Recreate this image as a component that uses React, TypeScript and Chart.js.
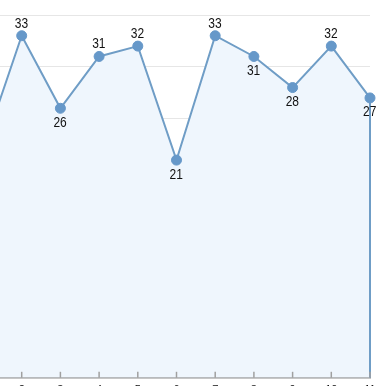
import React, { useEffect, useRef } from "react";
import { Chart, registerables } from "chart.js";

Chart.register(...registerables);

const categories = ["1", "2", "3", "4", "5", "6", "7", "8", "9", "10", "11"];
const values = [22, 33, 26, 31, 32, 21, 33, 31, 28, 32, 27];
const yMin = 0;
const yMax = 35;
const yStep = 5;

const LINE = "#6f9dc6";
const POINT = "#6698c9";
const FILL = "#eff6fd";

const overlay = {
  id: "overlay",
  afterDatasetsDraw(chart: any) {
    const { ctx, chartArea, scales } = chart;
    const xs = scales.x;
    const meta = chart.getDatasetMeta(0);
    const pts = meta.data;
    ctx.save();
    // right edge of the area
    const last = pts[pts.length - 1];
    ctx.strokeStyle = LINE;
    ctx.lineWidth = 2;
    ctx.beginPath();
    ctx.moveTo(last.x, last.y + 5);
    ctx.lineTo(last.x, chartArea.bottom);
    ctx.stroke();
    // inward tick marks
    ctx.strokeStyle = "#a0a0a0";
    ctx.lineWidth = 1.5;
    for (let i = 0; i < xs.ticks.length; i++) {
      const px = xs.getPixelForTick(i);
      ctx.beginPath();
      ctx.moveTo(px, chartArea.bottom - 6);
      ctx.lineTo(px, chartArea.bottom);
      ctx.stroke();
    }
    // data labels (narrow face)
    ctx.font = '15px "Liberation Sans", Arial, sans-serif';
    ctx.textAlign = "center";
    ctx.textBaseline = "alphabetic";
    ctx.fillStyle = "#111";
    pts.forEach((p: any, i: number) => {
      const up = i === 0 || values[i] > values[i - 1];
      const ty = up ? p.y - 8 : p.y + 18.5;
      ctx.save();
      ctx.translate(p.x - 0.3, ty);
      ctx.scale(0.8, 1);
      ctx.fillText(String(values[i]), 0, 0);
      ctx.restore();
    });
    ctx.restore();
  },
};

export default function App() {
  const ref = useRef<HTMLCanvasElement>(null);
  useEffect(() => {
    if (!ref.current) return;
    const chart = new Chart(ref.current, {
      type: "line",
      data: {
        labels: categories,
        datasets: [
          {
            data: values,
            borderColor: LINE,
            borderWidth: 2,
            backgroundColor: FILL,
            fill: "origin",
            tension: 0,
            pointRadius: 5,
            pointBorderWidth: 1,
            pointBackgroundColor: POINT,
            pointBorderColor: POINT,
          },
        ],
      },
      options: {
        responsive: false,
        animation: false,
        layout: { padding: { left: 20, right: 20, top: 10, bottom: 0 } },
        plugins: { legend: { display: false }, tooltip: { enabled: false } },
        scales: {
          x: {
            type: "category",
            offset: false,
            z: 1,
            grid: { display: false, drawTicks: false },
            border: { display: true, color: "#8e8e8e", width: 1.5 },
            ticks: {
              padding: 6,
              maxRotation: 0,
              autoSkip: false,
              color: "#111",
              font: { size: 11, family: '"Liberation Sans", sans-serif' },
            },
          },
          y: {
            min: yMin,
            max: yMax,
            ticks: { display: false, stepSize: yStep },
            grid: { color: "#e6e6e6", drawTicks: false },
            border: { display: false },
          },
        },
      },
      plugins: [overlay],
    });
    return () => chart.destroy();
  }, []);
  return (
    <div
      style={{
        position: "fixed",
        left: 0,
        top: 0,
        width: 382,
        height: 386,
        overflow: "hidden",
        background: "#fff",
      }}
    >
      <canvas
        ref={ref}
        width={427}
        height={398}
        style={{ position: "absolute", left: -37, top: 5, width: 427, height: 398 }}
      />
    </div>
  );
}
